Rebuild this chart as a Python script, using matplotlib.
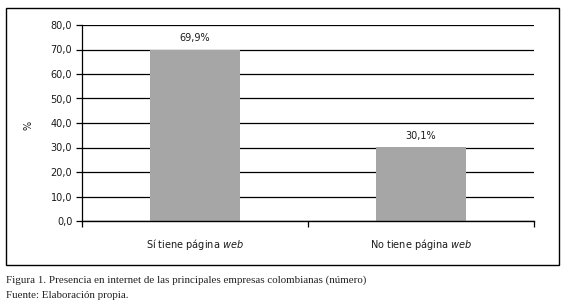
import matplotlib
matplotlib.use("Agg")
import matplotlib.pyplot as plt
from matplotlib.patches import Rectangle

categories = ["Sí tiene página ", "No tiene página "]
values = [69.9, 30.1]
value_labels = ["69,9%", "30,1%"]
yticks = [0, 10, 20, 30, 40, 50, 60, 70, 80]
ytick_labels = ["0,0", "10,0", "20,0", "30,0", "40,0", "50,0", "60,0", "70,0", "80,0"]

W, H = 567, 305
fig = plt.figure(figsize=(W / 100, H / 100), dpi=100)
fig.patch.set_facecolor("white")

# outer frame
fig.patches.append(Rectangle((6 / W, 1 - 265 / H), 553 / W, 257 / H,
                             transform=fig.transFigure, fill=False,
                             edgecolor="black", linewidth=1.0))

ax = fig.add_axes([82 / W, 1 - 221 / H, 452 / W, 196 / H])
x = [0, 1]
ax.bar(x, values, width=0.4, color="#a6a6a6", zorder=3)
ax.set_xlim(-0.5, 1.5)
ax.set_ylim(0, 80)
ax.set_yticks(yticks)
ax.set_yticklabels(ytick_labels, fontsize=7, color="#1a1a1a")
ax.yaxis.grid(True, color="black", linewidth=0.9, zorder=0)
ax.axhline(0, color="black", linewidth=1.0, clip_on=False, zorder=4)
ax.tick_params(axis="y", length=4, width=0.9, direction="out", pad=3)
for s in ["top", "right", "bottom"]:
    ax.spines[s].set_visible(False)
ax.spines["left"].set_linewidth(0.9)
ax.set_xticks([-0.5, 0.5, 1.5])
ax.set_xticklabels(["", "", ""])
ax.tick_params(axis="x", length=4, width=0.9, direction="out")

for xi, v, lab in zip(x, values, value_labels):
    ax.text(xi, v + 2.6, lab, ha="center", va="bottom", fontsize=7,
            color="#1a1a1a")

# category labels with italic "web"
for xi, cat in zip(x, categories):
    ax.annotate(cat + "$\\mathit{web}$", xy=(xi, 0), xycoords=("data", "axes fraction"),
                xytext=(0, -17), textcoords="offset points", ha="center", va="center",
                fontsize=7, color="#1a1a1a")

fig.text(28 / W, 1 - 125 / H, "%", rotation=90, ha="center", va="center",
         fontsize=7, color="#1a1a1a")

fig.text(6 / W, 1 - 280 / H, "Figura 1. Presencia en internet de las principales empresas colombianas (número)",
         ha="left", va="center", fontsize=7.9, family="Liberation Serif", color="#222222")
fig.text(6 / W, 1 - 296 / H, "Fuente: Elaboración propia.",
         ha="left", va="center", fontsize=7.9, family="Liberation Serif", color="#222222")

fig.savefig("out.png", dpi=100, facecolor="white")
